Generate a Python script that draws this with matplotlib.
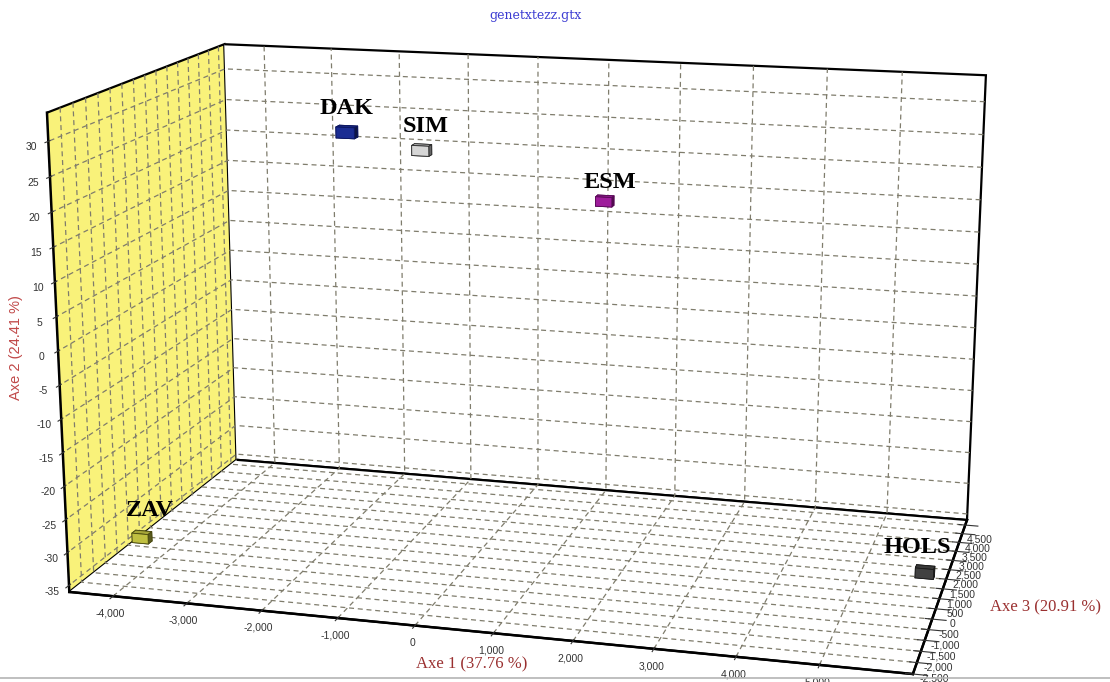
import numpy as np
import matplotlib
matplotlib.use('Agg')
import matplotlib.pyplot as plt
from matplotlib.ticker import FuncFormatter
from matplotlib.transforms import offset_copy
from matplotlib.lines import Line2D

# Factorial correspondence analysis: population coordinates on axes 1-3
populations = ['DAK', 'SIM', 'ESM', 'ZAV', 'HOLS']
axe1 = [-870, -790, 1010, -4400, 5900]
axe2 = [32.7, 24.7, 12.2, -34.5, -32.4]
axe3 = [-2600, 1000, 4500, -500, 580]

axe1_ticks = list(range(-4000, 5001, 1000))
axe2_ticks = list(range(-35, 31, 5))
axe3_ticks = list(range(-3000, 4501, 500))

title = 'genetxtezz.gtx'
label_axe1 = 'Axe 1 (37.76 %)'
label_axe2 = 'Axe 2 (24.41 %)'
label_axe3 = 'Axe 3 (20.91 %)'

# styling
box_colors = ['#1f33a6', '#f2f2f2', '#b321b0', '#d9d94a', '#4a4a4a']
box_edges = ['#0c1660', '#2a2a2a', '#5a0a58', '#4a4a10', '#1a1a1a']
label_nudge = [(0, 23), (4, 24), (5, 19), (8, 27), (-8, 25)]  # pixels

plt.rcParams.update({
    'font.family': ['Liberation Sans', 'DejaVu Sans'],
    'axes.unicode_minus': False,
    'grid.color': '#7f7c6c',
    'grid.linestyle': (0, (4, 3)),
    'grid.linewidth': 0.9,
    'axes.edgecolor': 'black',
    'axes.linewidth': 1.8,
    'axes3d.xaxis.panecolor': (0.976, 0.95, 0.48, 1.0),
    'axes3d.yaxis.panecolor': (1, 1, 1, 1),
    'axes3d.zaxis.panecolor': (1, 1, 1, 1),
})

W, H = 1110, 682
fig = plt.figure(figsize=(W / 100, H / 100), dpi=100)
fig.patch.set_facecolor('white')

# square 3D axes, larger than the figure so the box fills the canvas
SIDE = 1100.0
cx, cy = 520.8, 338.1
ax = fig.add_axes([(cx - SIDE / 2) / W, (cy - SIDE / 2) / H, SIDE / W, SIDE / H],
                  projection='3d')

xlim = (-4600, 6100)
ylim = (-3000, 4800)
zlim = (-36, 34)

ax.view_init(elev=14.518, azim=-74.948, roll=0.009)
ax.set_proj_type('persp', focal_length=0.449)
ax.set_box_aspect((1.836, 1.0, 1.0566), zoom=0.932)

thousands = FuncFormatter(lambda v, _: f'{v:,.0f}')
ax.set_xticks(axe1_ticks)
ax.set_yticks(axe3_ticks)
ax.set_zticks(axe2_ticks)
ax.xaxis.set_major_formatter(thousands)
ax.yaxis.set_major_formatter(thousands)
ax.set_xlim(xlim)
ax.set_ylim(ylim)
ax.set_zlim(zlim)
ax.zaxis.set_ticks_position('lower')

ax.tick_params(axis='x', labelsize=7.5, colors='#333333', pad=0)
ax.tick_params(axis='y', labelsize=7.5, colors='#333333', pad=0)
ax.tick_params(axis='z', labelsize=7.5, colors='#333333', pad=-1)

for axis in (ax.xaxis, ax.yaxis, ax.zaxis):
    axis.pane.set_edgecolor('black')
    axis.pane.set_linewidth(1.6)
    axis.line.set_color('black')
    axis.line.set_linewidth(1.8)
    axis.set_label_text('')

# population markers as small cuboids with names above them
bw, bd, bh = 230, 170, 1.5
for name, x, z, y, fc, ec, (nx, ny) in zip(populations, axe1, axe2, axe3,
                                             box_colors, box_edges, label_nudge):
    ax.bar3d(x - bw / 2, y - bd / 2, z - bh / 2, bw, bd, bh,
             color=fc, edgecolor=ec, linewidth=0.6, shade=True)
    tr = offset_copy(ax.transData, fig=fig, x=nx, y=ny, units='dots')
    ax.text(x, y, z, name, transform=tr, ha='center', va='center',
            fontsize=17.5, fontweight='bold', family='Liberation Serif',
            color='black', zorder=50)

fig.text(535 / W, 1 - 16 / H, title, ha='center', va='center',
         fontsize=9, color='#3c3cd2', family='DejaVu Serif')
fig.text(472 / W, 1 - 664 / H, label_axe1, ha='center', va='center',
         fontsize=12, color='#9a3030', family='Liberation Serif')
fig.text(1045 / W, 1 - 607 / H, label_axe3, ha='center', va='center',
         fontsize=12, color='#9a3030', family='Liberation Serif')
fig.text(16 / W, 1 - 348 / H, label_axe2, ha='center', va='center',
         rotation=90, fontsize=10.5, color='#c04848', family='Liberation Sans')

fig.add_artist(Line2D([0, 1], [1 - 678 / H] * 2, transform=fig.transFigure,
                      color='#b4b4b4', linewidth=1.2))

fig.savefig('out.png', dpi=100, facecolor='white')
